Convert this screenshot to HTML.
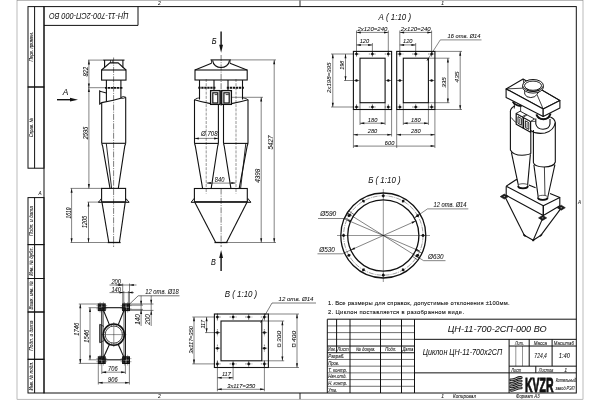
<!DOCTYPE html>
<html lang="ru"><head><meta charset="utf-8"><title>ЦН-11-700-2СП-000 ВО</title>
<style>
html,body{margin:0;padding:0;background:#fff;width:600px;height:400px;overflow:hidden}
svg{display:block;position:absolute;left:0;top:0;opacity:.999;will-change:transform}
svg text{stroke:#111;stroke-width:0.07px;font-family:"Liberation Sans","DejaVu Sans",sans-serif;font-style:italic;fill:#111}
</style></head><body>
<svg width="600" height="400" viewBox="0 0 600 400" stroke="#111" fill="none" stroke-linecap="butt">
<g id="frame">
<rect x="17" y="0.5" width="566" height="398.7" stroke="#777" stroke-width="0.5"/>
<rect x="44" y="6.6" width="532.3" height="386.4" stroke-width="1" fill="none"/>
<line x1="300" y1="0.5" x2="300" y2="6.6" stroke-width="0.9"/>
<line x1="300" y1="393" x2="300" y2="399.2" stroke-width="0.9"/>
<text transform="translate(159.3 3.4) rotate(0)" x="0" y="1.8" text-anchor="middle" style="font-size:5px;" fill="#333">2</text>
<text transform="translate(442.7 3.4) rotate(0)" x="0" y="1.8" text-anchor="middle" style="font-size:5px;" fill="#333">1</text>
<text transform="translate(159.3 396.3) rotate(0)" x="0" y="1.8" text-anchor="middle" style="font-size:5px;" fill="#333">2</text>
<text transform="translate(442.7 396.3) rotate(0)" x="0" y="1.8" text-anchor="middle" style="font-size:5px;" fill="#333">1</text>
<text transform="translate(40 193.3) rotate(0)" x="0" y="1.66" text-anchor="middle" style="font-size:4.6px;">А</text>
<text transform="translate(579.6 202.3) rotate(0)" x="0" y="1.66" text-anchor="middle" style="font-size:4.6px;">А</text>
<text transform="translate(464.5 396.4) rotate(0)" x="0" y="1.8" text-anchor="middle" style="font-size:5px;" textLength="23" lengthAdjust="spacingAndGlyphs" fill="#333">Копировал</text>
<text transform="translate(527.8 396.3) rotate(0)" x="0" y="1.8" text-anchor="middle" style="font-size:5px;" textLength="23.5" lengthAdjust="spacingAndGlyphs" fill="#333">Формат А3</text>
<line x1="138" y1="6.6" x2="138" y2="25.4" stroke-width="1"/>
<line x1="44" y1="25.4" x2="138" y2="25.4" stroke-width="1"/>
<text transform="translate(88.8 16.4) rotate(180)" x="0" y="3.17" text-anchor="middle" style="font-size:8.8px;stroke-width:0.03px;" textLength="79.5" lengthAdjust="spacingAndGlyphs">ЦН-11-700-2СП-000 ВО</text>
<rect x="28" y="6.6" width="16" height="80.4" stroke-width="1" fill="none"/>
<text transform="translate(31.4 46.8) rotate(-90)" x="0" y="1.87" text-anchor="middle" style="font-size:5.2px;" textLength="29.5" lengthAdjust="spacingAndGlyphs">Перв. примен.</text>
<rect x="28" y="87" width="16" height="81.2" stroke-width="1" fill="none"/>
<text transform="translate(31.4 127.6) rotate(-90)" x="0" y="1.87" text-anchor="middle" style="font-size:5.2px;" textLength="19.5" lengthAdjust="spacingAndGlyphs">Справ. №</text>
<line x1="34.6" y1="6.6" x2="34.6" y2="168.2" stroke-width="1"/>
<rect x="28" y="197.6" width="16" height="47" stroke-width="1" fill="none"/>
<text transform="translate(31.4 221.1) rotate(-90)" x="0" y="1.87" text-anchor="middle" style="font-size:5.2px;" textLength="30" lengthAdjust="spacingAndGlyphs">Подп. и дата</text>
<rect x="28" y="244.6" width="16" height="33.9" stroke-width="1" fill="none"/>
<text transform="translate(31.4 261.55) rotate(-90)" x="0" y="1.87" text-anchor="middle" style="font-size:5.2px;" textLength="28.5" lengthAdjust="spacingAndGlyphs">Инв. № дубл.</text>
<rect x="28" y="278.5" width="16" height="33.5" stroke-width="1" fill="none"/>
<text transform="translate(31.4 295.25) rotate(-90)" x="0" y="1.87" text-anchor="middle" style="font-size:5.2px;" textLength="28.5" lengthAdjust="spacingAndGlyphs">Взам. инв. №</text>
<rect x="28" y="312" width="16" height="47.3" stroke-width="1" fill="none"/>
<text transform="translate(31.4 335.65) rotate(-90)" x="0" y="1.87" text-anchor="middle" style="font-size:5.2px;" textLength="30" lengthAdjust="spacingAndGlyphs">Подп. и дата</text>
<rect x="28" y="359.3" width="16" height="33.7" stroke-width="1" fill="none"/>
<text transform="translate(31.4 376.15) rotate(-90)" x="0" y="1.87" text-anchor="middle" style="font-size:5.2px;" textLength="28.5" lengthAdjust="spacingAndGlyphs">Инв. № подл.</text>
<line x1="34.6" y1="197.6" x2="34.6" y2="393" stroke-width="1"/>
</g>
<g id="title">
<line x1="327.3" y1="319.2" x2="576.3" y2="319.2" stroke-width="1"/>
<line x1="327.3" y1="319.2" x2="327.3" y2="393" stroke-width="1"/>
<line x1="350" y1="319.2" x2="350" y2="393" stroke-width="1"/>
<line x1="380.5" y1="319.2" x2="380.5" y2="393" stroke-width="1"/>
<line x1="401.5" y1="319.2" x2="401.5" y2="393" stroke-width="1"/>
<line x1="414.5" y1="319.2" x2="414.5" y2="393" stroke-width="1"/>
<line x1="336.6" y1="319.2" x2="336.6" y2="352.75" stroke-width="1"/>
<line x1="327.3" y1="325.91" x2="414.5" y2="325.91" stroke-width="0.6"/>
<line x1="327.3" y1="332.62" x2="414.5" y2="332.62" stroke-width="0.6"/>
<line x1="327.3" y1="339.33" x2="414.5" y2="339.33" stroke-width="0.6"/>
<line x1="327.3" y1="346.04" x2="414.5" y2="346.04" stroke-width="1"/>
<line x1="327.3" y1="352.75" x2="414.5" y2="352.75" stroke-width="1"/>
<line x1="327.3" y1="359.45" x2="414.5" y2="359.45" stroke-width="0.6"/>
<line x1="327.3" y1="366.16" x2="414.5" y2="366.16" stroke-width="0.6"/>
<line x1="327.3" y1="372.87" x2="414.5" y2="372.87" stroke-width="0.6"/>
<line x1="327.3" y1="379.58" x2="414.5" y2="379.58" stroke-width="0.6"/>
<line x1="327.3" y1="386.29" x2="414.5" y2="386.29" stroke-width="0.6"/>
<line x1="414.5" y1="339.33" x2="576.3" y2="339.33" stroke-width="1"/>
<line x1="414.5" y1="372.87" x2="576.3" y2="372.87" stroke-width="1"/>
<line x1="509.1" y1="339.33" x2="509.1" y2="393" stroke-width="1"/>
<line x1="509.1" y1="346.04" x2="576.3" y2="346.04" stroke-width="1"/>
<line x1="509.1" y1="366.16" x2="576.3" y2="366.16" stroke-width="1"/>
<line x1="529.2" y1="339.33" x2="529.2" y2="366.16" stroke-width="1"/>
<line x1="552.1" y1="339.33" x2="552.1" y2="366.16" stroke-width="1"/>
<line x1="515.8" y1="346.04" x2="515.8" y2="366.16" stroke-width="0.45"/>
<line x1="522.5" y1="346.04" x2="522.5" y2="366.16" stroke-width="0.45"/>
<line x1="535.8" y1="366.16" x2="535.8" y2="372.87" stroke-width="1"/>
<text transform="translate(331.9 349.59) rotate(0)" x="0" y="1.8" text-anchor="middle" style="font-size:5px;" textLength="7.6" lengthAdjust="spacingAndGlyphs">Изм.</text>
<text transform="translate(342.9 349.59) rotate(0)" x="0" y="1.8" text-anchor="middle" style="font-size:5px;" textLength="11.5" lengthAdjust="spacingAndGlyphs">Лист</text>
<text transform="translate(365.8 349.59) rotate(0)" x="0" y="1.8" text-anchor="middle" style="font-size:5px;" textLength="19.5" lengthAdjust="spacingAndGlyphs">№ докум.</text>
<text transform="translate(390.8 349.59) rotate(0)" x="0" y="1.8" text-anchor="middle" style="font-size:5px;" textLength="11" lengthAdjust="spacingAndGlyphs">Подп.</text>
<text transform="translate(407.9 349.59) rotate(0)" x="0" y="1.8" text-anchor="middle" style="font-size:5px;" textLength="11" lengthAdjust="spacingAndGlyphs">Дата</text>
<text transform="translate(328.2 356.3) rotate(0)" x="0" y="1.87" text-anchor="start" style="font-size:5.2px;" textLength="16.3" lengthAdjust="spacingAndGlyphs">Разраб.</text>
<text transform="translate(328.2 363.01) rotate(0)" x="0" y="1.87" text-anchor="start" style="font-size:5.2px;" textLength="11" lengthAdjust="spacingAndGlyphs">Пров.</text>
<text transform="translate(328.2 369.72) rotate(0)" x="0" y="1.87" text-anchor="start" style="font-size:5.2px;" textLength="19" lengthAdjust="spacingAndGlyphs">Т. контр.</text>
<text transform="translate(328.2 376.43) rotate(0)" x="0" y="1.87" text-anchor="start" style="font-size:5.2px;" textLength="18.5" lengthAdjust="spacingAndGlyphs">Нач.отд.</text>
<text transform="translate(328.2 383.14) rotate(0)" x="0" y="1.87" text-anchor="start" style="font-size:5.2px;" textLength="19" lengthAdjust="spacingAndGlyphs">Н. контр.</text>
<text transform="translate(328.2 389.85) rotate(0)" x="0" y="1.87" text-anchor="start" style="font-size:5.2px;" textLength="9" lengthAdjust="spacingAndGlyphs">Утв.</text>
<text transform="translate(497.2 328.9) rotate(0)" x="0" y="3.24" text-anchor="middle" style="font-size:9px;stroke-width:0.03px;" textLength="99" lengthAdjust="spacingAndGlyphs">ЦН-11-700-2СП-000 ВО</text>
<text transform="translate(462.4 352.4) rotate(0)" x="0" y="3.02" text-anchor="middle" style="font-size:8.4px;stroke-width:0.03px;" textLength="79.5" lengthAdjust="spacingAndGlyphs">Циклон ЦН-11-700х2СП</text>
<text transform="translate(519.4 342.98) rotate(0)" x="0" y="1.87" text-anchor="middle" style="font-size:5.2px;" textLength="8.8" lengthAdjust="spacingAndGlyphs">Лит.</text>
<text transform="translate(540.3 342.98) rotate(0)" x="0" y="1.87" text-anchor="middle" style="font-size:5.2px;" textLength="13.2" lengthAdjust="spacingAndGlyphs">Масса</text>
<text transform="translate(563.8 342.98) rotate(0)" x="0" y="1.87" text-anchor="middle" style="font-size:5.2px;" textLength="20" lengthAdjust="spacingAndGlyphs">Масштаб</text>
<text transform="translate(540.6 355.8) rotate(0)" x="0" y="2.3" text-anchor="middle" style="font-size:6.4px;" textLength="12.5" lengthAdjust="spacingAndGlyphs">724,4</text>
<text transform="translate(564.4 356) rotate(0)" x="0" y="2.3" text-anchor="middle" style="font-size:6.4px;" textLength="11.3" lengthAdjust="spacingAndGlyphs">1:40</text>
<text transform="translate(516.2 369.82) rotate(0)" x="0" y="1.87" text-anchor="middle" style="font-size:5.2px;" textLength="10" lengthAdjust="spacingAndGlyphs">Лист</text>
<text transform="translate(546 369.82) rotate(0)" x="0" y="1.87" text-anchor="middle" style="font-size:5.2px;" textLength="14.4" lengthAdjust="spacingAndGlyphs">Листов</text>
<text transform="translate(565.6 369.82) rotate(0)" x="0" y="1.87" text-anchor="middle" style="font-size:5.2px;">1</text>
<path d="M510.8 379.8 C512.5 380.2 514 379.6 516 378.7 S519.5 377.2 521.2 377.6" stroke-width="2.8" fill="none" stroke-linecap="round"/>
<path d="M510.8 379.8 C512.5 380.2 514 379.6 516 378.7 S519.5 377.2 521.2 377.6" stroke-width="0.7" fill="none" stroke-linecap="round" stroke="#fff"/>
<path d="M510.8 383.25 C512.5 383.65 514 383.05 516 382.15 S519.5 380.65 521.2 381.05" stroke-width="2.8" fill="none" stroke-linecap="round"/>
<path d="M510.8 383.25 C512.5 383.65 514 383.05 516 382.15 S519.5 380.65 521.2 381.05" stroke-width="0.7" fill="none" stroke-linecap="round" stroke="#fff"/>
<path d="M510.8 386.7 C512.5 387.1 514 386.5 516 385.6 S519.5 384.1 521.2 384.5" stroke-width="2.8" fill="none" stroke-linecap="round"/>
<path d="M510.8 386.7 C512.5 387.1 514 386.5 516 385.6 S519.5 384.1 521.2 384.5" stroke-width="0.7" fill="none" stroke-linecap="round" stroke="#fff"/>
<path d="M510.8 390.15 C512.5 390.55 514 389.95 516 389.05 S519.5 387.55 521.2 387.95" stroke-width="2.8" fill="none" stroke-linecap="round"/>
<path d="M510.8 390.15 C512.5 390.55 514 389.95 516 389.05 S519.5 387.55 521.2 387.95" stroke-width="0.7" fill="none" stroke-linecap="round" stroke="#fff"/>
<text transform="translate(539.2 384.2) rotate(0)" x="0" y="7.34" text-anchor="middle" style="font-size:20.4px;font-style:normal;font-weight:bold;stroke-width:0.9px;" textLength="28.6" lengthAdjust="spacingAndGlyphs">KVZR</text>
<text transform="translate(565.9 380.6) rotate(0)" x="0" y="1.87" text-anchor="middle" style="font-size:5.2px;" textLength="20.5" lengthAdjust="spacingAndGlyphs">Котельный</text>
<text transform="translate(565 388) rotate(0)" x="0" y="1.87" text-anchor="middle" style="font-size:5.2px;" textLength="19" lengthAdjust="spacingAndGlyphs">завод РЭП</text>
</g>
<text transform="translate(328 303.4) rotate(0)" x="0" y="2.09" text-anchor="start" style="font-size:5.8px;font-style:normal;stroke-width:0.1px;" textLength="181.5" lengthAdjust="spacing">1. Все размеры для справок, допустимые отклонения ±100мм.</text>
<text transform="translate(328 311.7) rotate(0)" x="0" y="2.09" text-anchor="start" style="font-size:5.8px;font-style:normal;stroke-width:0.1px;" textLength="136" lengthAdjust="spacing">2. Циклон поставляется в разобранном виде.</text>
<g id="v1">
<line x1="113.6" y1="57.5" x2="113.6" y2="247" stroke-width="0.55" stroke-dasharray="6 1.2 1 1.2"/>
<line x1="103.1" y1="60.1" x2="124.5" y2="60.1" stroke-width="1.1"/>
<line x1="104.6" y1="60.1" x2="104.6" y2="67.4" stroke-width="1.1"/>
<line x1="122.9" y1="60.1" x2="122.9" y2="67.4" stroke-width="1.1"/>
<line x1="110.6" y1="60.1" x2="110.6" y2="62.9" stroke-width="0.8"/>
<line x1="112.6" y1="60.1" x2="112.6" y2="62.9" stroke-width="0.6"/>
<path d="M101.6 70 L109.9 62.9 L118.1 62.9 L126 70" stroke-width="1.1" fill="none"/>
<rect x="101.6" y="70" width="24.4" height="10.1" stroke-width="1.1" fill="none"/>
<line x1="106.4" y1="80.1" x2="106.4" y2="101.6" stroke-width="1.1"/>
<line x1="120.9" y1="80.1" x2="120.9" y2="98" stroke-width="1.1"/>
<line x1="105" y1="87.9" x2="123" y2="87.9" stroke-width="1.9" stroke-dasharray="2.4 0.6"/>
<path d="M106.4 93 L99.7 91.2 L99.7 90.2 L99.7 104.7 L99.7 104 L101.8 102.5" stroke-width="1.1" fill="none"/>
<path d="M101.7 102.6 Q112 100.8 120.9 98.2" stroke-width="1.1" fill="none" />
<path d="M120.9 97.5 Q123 95.8 125.7 97.2" stroke-width="0.9" fill="none" />
<path d="M120.9 98.3 Q123.8 98.7 125.7 97.3" stroke-width="0.9" fill="none" />
<line x1="101.7" y1="102.4" x2="101.7" y2="143.3" stroke-width="1.1"/>
<line x1="125.7" y1="97.2" x2="125.7" y2="143.3" stroke-width="1.1"/>
<line x1="101.7" y1="143.3" x2="125.7" y2="143.3" stroke-width="1.1"/>
<path d="M101.7 143.3 L102.6 146 L110 188.3" stroke-width="1.1" fill="none"/>
<path d="M125.7 143.3 L124.8 146 L118.3 188.3" stroke-width="1.1" fill="none"/>
<path d="M106.3 143.5 L111.6 188.3" stroke-width="0.9" fill="none"/>
<rect x="101.6" y="188.4" width="24" height="13.6" stroke-width="1.1" fill="none"/>
<line x1="98.4" y1="202.1" x2="129.2" y2="202.1" stroke-width="1.3"/>
<path d="M98.6 202.2 L101.2 198.8 L101.6 202.2 Z" stroke-width="0.9" fill="#fff"/>
<path d="M129 202.2 L126.2 198.8 L125.6 202.2 Z" stroke-width="0.9" fill="#fff"/>
<path d="M102 202.4 L108.8 242.5" stroke-width="1.1" fill="none"/>
<path d="M125.2 202.4 L119.4 242.5" stroke-width="1.1" fill="none"/>
<line x1="107.6" y1="242.5" x2="120.6" y2="242.5" stroke-width="1.3"/>
<line x1="88" y1="60.1" x2="103" y2="60.1" stroke-width="0.52"/>
<line x1="88" y1="87.7" x2="106" y2="87.7" stroke-width="0.52"/>
<line x1="88.9" y1="60.1" x2="88.9" y2="87.7" stroke-width="0.52"/>
<path d="M88.9 60.1 L89.9 64.4 L87.9 64.4 Z" fill="#111" stroke="none"/>
<path d="M88.9 87.7 L87.9 83.4 L89.9 83.4 Z" fill="#111" stroke="none"/>
<text transform="translate(85.4 71.7) rotate(-90)" x="0" y="2.52" text-anchor="middle" style="font-size:7px;" textLength="9.5" lengthAdjust="spacingAndGlyphs">822</text>
<line x1="88.9" y1="87.7" x2="88.9" y2="188.4" stroke-width="0.52"/>
<path d="M88.9 87.7 L89.9 92 L87.9 92 Z" fill="#111" stroke="none"/>
<path d="M88.9 188.4 L87.9 184.1 L89.9 184.1 Z" fill="#111" stroke="none"/>
<text transform="translate(85.3 133) rotate(-90)" x="0" y="2.52" text-anchor="middle" style="font-size:7px;" textLength="12.5" lengthAdjust="spacingAndGlyphs">2595</text>
<line x1="70.5" y1="188.4" x2="101.8" y2="188.4" stroke-width="0.52"/>
<line x1="87.5" y1="202.1" x2="99" y2="202.1" stroke-width="0.52"/>
<line x1="70.5" y1="242.5" x2="107.6" y2="242.5" stroke-width="0.52"/>
<line x1="71.6" y1="188.4" x2="71.6" y2="242.5" stroke-width="0.52"/>
<path d="M71.6 188.4 L72.6 192.7 L70.6 192.7 Z" fill="#111" stroke="none"/>
<path d="M71.6 242.5 L70.6 238.2 L72.6 238.2 Z" fill="#111" stroke="none"/>
<text transform="translate(68 213) rotate(-90)" x="0" y="2.52" text-anchor="middle" style="font-size:7px;" textLength="10.8" lengthAdjust="spacingAndGlyphs">1610</text>
<line x1="88.5" y1="202.1" x2="88.5" y2="242.5" stroke-width="0.52"/>
<path d="M88.5 202.1 L89.5 206.4 L87.5 206.4 Z" fill="#111" stroke="none"/>
<path d="M88.5 242.5 L87.5 238.2 L89.5 238.2 Z" fill="#111" stroke="none"/>
<text transform="translate(84.9 222) rotate(-90)" x="0" y="2.52" text-anchor="middle" style="font-size:7px;" textLength="12.2" lengthAdjust="spacingAndGlyphs">1205</text>
<line x1="57" y1="99.7" x2="71" y2="99.7" stroke-width="1.4"/>
<path d="M78 99.7 L70 101.6 L70 97.8 Z" fill="#111" stroke="none"/>
<text transform="translate(65.6 92) rotate(0)" x="0" y="2.99" text-anchor="middle" style="font-size:8.3px;" textLength="5.6" lengthAdjust="spacingAndGlyphs">А</text>
</g>
<g id="v2">
<line x1="221.1" y1="55" x2="221.1" y2="106" stroke-width="0.55" stroke-dasharray="6 1.2 1 1.2"/>
<line x1="221.1" y1="188.5" x2="221.1" y2="247" stroke-width="0.55" stroke-dasharray="6 1.2 1 1.2"/>
<line x1="206.2" y1="79" x2="206.2" y2="190" stroke-width="0.45" stroke-dasharray="3 1.2"/>
<line x1="236" y1="79" x2="236" y2="190" stroke-width="0.45" stroke-dasharray="3 1.2"/>
<line x1="206.2" y1="190" x2="206.2" y2="193.5" stroke-width="0.45" stroke-dasharray="2 1"/>
<line x1="236" y1="190" x2="236" y2="193.5" stroke-width="0.45" stroke-dasharray="2 1"/>
<line x1="210.5" y1="59.9" x2="231" y2="59.9" stroke-width="1.1"/>
<line x1="211.5" y1="59.9" x2="211.5" y2="63.4" stroke-width="0.8"/>
<line x1="230" y1="59.9" x2="230" y2="63.4" stroke-width="0.8"/>
<path d="M212.6 60.4 C213.5 69.8 228.5 69.8 229.5 60.4" stroke-width="1.1" fill="none" />
<path d="M195 70 L211.5 63.3" stroke-width="1.1" fill="none"/>
<path d="M247 70 L230 63.3" stroke-width="1.1" fill="none"/>
<rect x="195" y="70" width="52.2" height="10" stroke-width="1.1" fill="none"/>
<line x1="199.5" y1="80" x2="199.5" y2="99.5" stroke-width="1.1"/>
<line x1="214" y1="80" x2="214" y2="99.5" stroke-width="1.1"/>
<line x1="198.3" y1="87.8" x2="215.4" y2="87.8" stroke-width="1.9" stroke-dasharray="2.3 0.7"/>
<line x1="228" y1="80" x2="228" y2="99.5" stroke-width="1.1"/>
<line x1="242.5" y1="80" x2="242.5" y2="99.5" stroke-width="1.1"/>
<line x1="226.8" y1="87.8" x2="243.9" y2="87.8" stroke-width="1.9" stroke-dasharray="2.3 0.7"/>
<rect x="210.6" y="90.6" width="9.4" height="13.8" stroke-width="1.3" fill="#fff"/>
<rect x="212.8" y="92.8" width="5" height="10.2" stroke-width="1.2" fill="none"/>
<line x1="214.6" y1="94.6" x2="217.4" y2="94.6" stroke-width="0.8"/>
<rect x="221.7" y="90.6" width="9.7" height="13.8" stroke-width="1.3" fill="#fff"/>
<rect x="223.9" y="92.8" width="5.3" height="10.2" stroke-width="1.2" fill="none"/>
<line x1="225.7" y1="94.6" x2="228.8" y2="94.6" stroke-width="0.8"/>
<line x1="220.8" y1="90.6" x2="220.8" y2="104.4" stroke-width="1"/>
<path d="M194.5 100.2 Q194.8 98.2 199.5 97.8" stroke-width="0.8" fill="none" />
<path d="M248 100.2 Q247.7 98.2 242.5 97.8" stroke-width="0.8" fill="none" />
<path d="M194.5 99.8 Q201 102 210.6 103.6" stroke-width="1.1" fill="none" />
<path d="M248 99.8 Q241 102 231.4 103.6" stroke-width="1.1" fill="none" />
<line x1="194.5" y1="99.6" x2="194.5" y2="143.4" stroke-width="1.1"/>
<line x1="218.4" y1="104.4" x2="218.4" y2="143.4" stroke-width="1.1"/>
<line x1="223.5" y1="104.4" x2="223.5" y2="143.4" stroke-width="1.1"/>
<line x1="248" y1="99.6" x2="248" y2="143.4" stroke-width="1.1"/>
<line x1="194.5" y1="143.4" x2="218.4" y2="143.4" stroke-width="1.1"/>
<line x1="223.5" y1="143.4" x2="248" y2="143.4" stroke-width="1.1"/>
<path d="M194.5 143.4 L195.3 146 L202.6 188.4" stroke-width="1.1" fill="none"/>
<path d="M218.4 143.4 L217.7 146 L211.2 188.4" stroke-width="1.1" fill="none"/>
<path d="M223.5 143.4 L224.2 146 L230.9 188.4" stroke-width="1.1" fill="none"/>
<path d="M248 143.4 L247.2 146 L239.2 188.4" stroke-width="1.1" fill="none"/>
<path d="M245.8 143.6 L240.6 188.4" stroke-width="0.9" fill="none"/>
<rect x="194.4" y="188.5" width="52.9" height="13.3" stroke-width="1.1" fill="none"/>
<line x1="191" y1="202.1" x2="251" y2="202.1" stroke-width="1.4"/>
<path d="M191.2 202.2 L194 198.6 L194.6 202.2 Z" stroke-width="0.9" fill="#fff"/>
<path d="M250.8 202.2 L248 198.6 L247.3 202.2 Z" stroke-width="0.9" fill="#fff"/>
<path d="M194.8 202.2 L215.7 242.4" stroke-width="1.1" fill="none"/>
<path d="M247 202.2 L226.5 242.4" stroke-width="1.1" fill="none"/>
<line x1="214.5" y1="242.5" x2="227.6" y2="242.5" stroke-width="1.3"/>
<line x1="231" y1="59.9" x2="276" y2="59.9" stroke-width="0.52"/>
<line x1="231.6" y1="97.3" x2="263" y2="97.3" stroke-width="0.52"/>
<line x1="227.6" y1="242.5" x2="276" y2="242.5" stroke-width="0.52"/>
<line x1="274.2" y1="59.9" x2="274.2" y2="242.5" stroke-width="0.52"/>
<path d="M274.2 59.9 L275.2 64.2 L273.2 64.2 Z" fill="#111" stroke="none"/>
<path d="M274.2 242.5 L273.2 238.2 L275.2 238.2 Z" fill="#111" stroke="none"/>
<text transform="translate(270.6 142.5) rotate(-90)" x="0" y="2.52" text-anchor="middle" style="font-size:7px;" textLength="14" lengthAdjust="spacingAndGlyphs">5427</text>
<line x1="261.2" y1="97.3" x2="261.2" y2="242.5" stroke-width="0.52"/>
<path d="M261.2 97.3 L262.2 101.6 L260.2 101.6 Z" fill="#111" stroke="none"/>
<path d="M261.2 242.5 L260.2 238.2 L262.2 238.2 Z" fill="#111" stroke="none"/>
<text transform="translate(257.9 175.8) rotate(-90)" x="0" y="2.52" text-anchor="middle" style="font-size:7px;" textLength="14" lengthAdjust="spacingAndGlyphs">4398</text>
<line x1="194.5" y1="138.4" x2="218.4" y2="138.4" stroke-width="0.52"/>
<path d="M194.5 138.4 L198.8 137.4 L198.8 139.4 Z" fill="#111" stroke="none"/>
<path d="M218.4 138.4 L214.1 139.4 L214.1 137.4 Z" fill="#111" stroke="none"/>
<text transform="translate(209.3 133.5) rotate(0)" x="0" y="2.52" text-anchor="middle" style="font-size:7px;" textLength="16.5" lengthAdjust="spacingAndGlyphs">Ø 708</text>
<line x1="206.6" y1="183.1" x2="235.6" y2="183.1" stroke-width="0.52"/>
<path d="M206.6 183.1 L210.9 182.1 L210.9 184.1 Z" fill="#111" stroke="none"/>
<path d="M235.6 183.1 L231.3 184.1 L231.3 182.1 Z" fill="#111" stroke="none"/>
<text transform="translate(219.6 179.2) rotate(0)" x="0" y="2.52" text-anchor="middle" style="font-size:7px;" textLength="9.5" lengthAdjust="spacingAndGlyphs">840</text>
<line x1="221.1" y1="31.5" x2="221.1" y2="46" stroke-width="1.4"/>
<path d="M221.1 52.8 L219.2 44.8 L223 44.8 Z" fill="#111" stroke="none"/>
<text transform="translate(214.2 40.5) rotate(0)" x="0" y="2.99" text-anchor="middle" style="font-size:8.3px;" textLength="4.8" lengthAdjust="spacingAndGlyphs">Б</text>
<line x1="221.1" y1="271" x2="221.1" y2="257" stroke-width="1.4"/>
<path d="M221.1 250 L223 258 L219.2 258 Z" fill="#111" stroke="none"/>
<text transform="translate(213.4 261.6) rotate(0)" x="0" y="2.99" text-anchor="middle" style="font-size:8.3px;" textLength="4.8" lengthAdjust="spacingAndGlyphs">В</text>
</g>
<g id="vA">
<text transform="translate(394.8 16.4) rotate(0)" x="0" y="3.17" text-anchor="middle" style="font-size:8.8px;stroke-width:0.03px;" textLength="32.5" lengthAdjust="spacingAndGlyphs">А ( 1:10 )</text>
<rect x="353.4" y="51.4" width="38.2" height="58.1" stroke-width="1.1" fill="none"/>
<rect x="360" y="58.2" width="25.1" height="44.5" stroke-width="1.1" fill="none"/>
<circle cx="356.5" cy="54" r="1.3" fill="#111" stroke="none"/>
<line x1="356.5" y1="51.4" x2="356.5" y2="56.6" stroke-width="0.6"/>
<circle cx="356.5" cy="107" r="1.3" fill="#111" stroke="none"/>
<line x1="356.5" y1="104.4" x2="356.5" y2="109.6" stroke-width="0.6"/>
<circle cx="372.4" cy="54" r="1.3" fill="#111" stroke="none"/>
<line x1="372.4" y1="51.4" x2="372.4" y2="56.6" stroke-width="0.6"/>
<circle cx="372.4" cy="107" r="1.3" fill="#111" stroke="none"/>
<line x1="372.4" y1="104.4" x2="372.4" y2="109.6" stroke-width="0.6"/>
<circle cx="388.3" cy="54" r="1.3" fill="#111" stroke="none"/>
<line x1="388.3" y1="51.4" x2="388.3" y2="56.6" stroke-width="0.6"/>
<circle cx="388.3" cy="107" r="1.3" fill="#111" stroke="none"/>
<line x1="388.3" y1="104.4" x2="388.3" y2="109.6" stroke-width="0.6"/>
<circle cx="356.5" cy="80.5" r="1.3" fill="#111" stroke="none"/>
<line x1="353.7" y1="80.5" x2="359.3" y2="80.5" stroke-width="0.6"/>
<circle cx="388.3" cy="80.5" r="1.3" fill="#111" stroke="none"/>
<line x1="385.5" y1="80.5" x2="391.1" y2="80.5" stroke-width="0.6"/>
<line x1="352.9" y1="54" x2="360.1" y2="54" stroke-width="0.5" stroke-dasharray="1.6 0.6"/>
<line x1="352.9" y1="107" x2="360.1" y2="107" stroke-width="0.5" stroke-dasharray="1.6 0.6"/>
<line x1="368.8" y1="54" x2="376" y2="54" stroke-width="0.5" stroke-dasharray="1.6 0.6"/>
<line x1="368.8" y1="107" x2="376" y2="107" stroke-width="0.5" stroke-dasharray="1.6 0.6"/>
<line x1="384.7" y1="54" x2="391.9" y2="54" stroke-width="0.5" stroke-dasharray="1.6 0.6"/>
<line x1="384.7" y1="107" x2="391.9" y2="107" stroke-width="0.5" stroke-dasharray="1.6 0.6"/>
<line x1="356.5" y1="30.5" x2="356.5" y2="54" stroke-width="0.52"/>
<line x1="388.3" y1="30.5" x2="388.3" y2="54" stroke-width="0.52"/>
<line x1="372.4" y1="43" x2="372.4" y2="54" stroke-width="0.52"/>
<line x1="356.5" y1="32.4" x2="388.3" y2="32.4" stroke-width="0.52"/>
<path d="M356.5 32.4 L360.8 31.4 L360.8 33.4 Z" fill="#111" stroke="none"/>
<path d="M388.3 32.4 L384 33.4 L384 31.4 Z" fill="#111" stroke="none"/>
<text transform="translate(372.4 28.6) rotate(0)" x="0" y="2.05" text-anchor="middle" style="font-size:5.7px;" textLength="30" lengthAdjust="spacingAndGlyphs">2х120=240</text>
<line x1="356.5" y1="44.9" x2="372.4" y2="44.9" stroke-width="0.52"/>
<path d="M356.5 44.9 L360.8 43.9 L360.8 45.9 Z" fill="#111" stroke="none"/>
<path d="M372.4 44.9 L368.1 45.9 L368.1 43.9 Z" fill="#111" stroke="none"/>
<text transform="translate(364.45 41.2) rotate(0)" x="0" y="2.05" text-anchor="middle" style="font-size:5.7px;" textLength="9.5" lengthAdjust="spacingAndGlyphs">120</text>
<line x1="360" y1="102.7" x2="360" y2="125" stroke-width="0.52"/>
<line x1="385.1" y1="102.7" x2="385.1" y2="125" stroke-width="0.52"/>
<line x1="353.4" y1="109.5" x2="353.4" y2="148" stroke-width="0.52"/>
<line x1="391.6" y1="109.5" x2="391.6" y2="136.5" stroke-width="0.52"/>
<line x1="360" y1="123.2" x2="385.1" y2="123.2" stroke-width="0.52"/>
<path d="M360 123.2 L364.3 122.2 L364.3 124.2 Z" fill="#111" stroke="none"/>
<path d="M385.1 123.2 L380.8 124.2 L380.8 122.2 Z" fill="#111" stroke="none"/>
<text transform="translate(372.55 119.6) rotate(0)" x="0" y="2.05" text-anchor="middle" style="font-size:5.7px;" textLength="9.5" lengthAdjust="spacingAndGlyphs">180</text>
<line x1="353.4" y1="134.7" x2="391.6" y2="134.7" stroke-width="0.52"/>
<path d="M353.4 134.7 L357.7 133.7 L357.7 135.7 Z" fill="#111" stroke="none"/>
<path d="M391.6 134.7 L387.3 135.7 L387.3 133.7 Z" fill="#111" stroke="none"/>
<text transform="translate(372.5 131.1) rotate(0)" x="0" y="2.05" text-anchor="middle" style="font-size:5.7px;" textLength="9.5" lengthAdjust="spacingAndGlyphs">280</text>
<rect x="396.7" y="51.4" width="38.2" height="58.1" stroke-width="1.1" fill="none"/>
<rect x="403.3" y="58.2" width="25.1" height="44.5" stroke-width="1.1" fill="none"/>
<circle cx="399.8" cy="54" r="1.3" fill="#111" stroke="none"/>
<line x1="399.8" y1="51.4" x2="399.8" y2="56.6" stroke-width="0.6"/>
<circle cx="399.8" cy="107" r="1.3" fill="#111" stroke="none"/>
<line x1="399.8" y1="104.4" x2="399.8" y2="109.6" stroke-width="0.6"/>
<circle cx="415.7" cy="54" r="1.3" fill="#111" stroke="none"/>
<line x1="415.7" y1="51.4" x2="415.7" y2="56.6" stroke-width="0.6"/>
<circle cx="415.7" cy="107" r="1.3" fill="#111" stroke="none"/>
<line x1="415.7" y1="104.4" x2="415.7" y2="109.6" stroke-width="0.6"/>
<circle cx="431.6" cy="54" r="1.3" fill="#111" stroke="none"/>
<line x1="431.6" y1="51.4" x2="431.6" y2="56.6" stroke-width="0.6"/>
<circle cx="431.6" cy="107" r="1.3" fill="#111" stroke="none"/>
<line x1="431.6" y1="104.4" x2="431.6" y2="109.6" stroke-width="0.6"/>
<circle cx="399.8" cy="80.5" r="1.3" fill="#111" stroke="none"/>
<line x1="397" y1="80.5" x2="402.6" y2="80.5" stroke-width="0.6"/>
<circle cx="431.6" cy="80.5" r="1.3" fill="#111" stroke="none"/>
<line x1="428.8" y1="80.5" x2="434.4" y2="80.5" stroke-width="0.6"/>
<line x1="396.2" y1="54" x2="403.4" y2="54" stroke-width="0.5" stroke-dasharray="1.6 0.6"/>
<line x1="396.2" y1="107" x2="403.4" y2="107" stroke-width="0.5" stroke-dasharray="1.6 0.6"/>
<line x1="412.1" y1="54" x2="419.3" y2="54" stroke-width="0.5" stroke-dasharray="1.6 0.6"/>
<line x1="412.1" y1="107" x2="419.3" y2="107" stroke-width="0.5" stroke-dasharray="1.6 0.6"/>
<line x1="428" y1="54" x2="435.2" y2="54" stroke-width="0.5" stroke-dasharray="1.6 0.6"/>
<line x1="428" y1="107" x2="435.2" y2="107" stroke-width="0.5" stroke-dasharray="1.6 0.6"/>
<line x1="399.8" y1="30.5" x2="399.8" y2="54" stroke-width="0.52"/>
<line x1="431.6" y1="30.5" x2="431.6" y2="54" stroke-width="0.52"/>
<line x1="415.7" y1="43" x2="415.7" y2="54" stroke-width="0.52"/>
<line x1="399.8" y1="32.4" x2="431.6" y2="32.4" stroke-width="0.52"/>
<path d="M399.8 32.4 L404.1 31.4 L404.1 33.4 Z" fill="#111" stroke="none"/>
<path d="M431.6 32.4 L427.3 33.4 L427.3 31.4 Z" fill="#111" stroke="none"/>
<text transform="translate(415.7 28.6) rotate(0)" x="0" y="2.05" text-anchor="middle" style="font-size:5.7px;" textLength="30" lengthAdjust="spacingAndGlyphs">2х120=240</text>
<line x1="399.8" y1="44.9" x2="415.7" y2="44.9" stroke-width="0.52"/>
<path d="M399.8 44.9 L404.1 43.9 L404.1 45.9 Z" fill="#111" stroke="none"/>
<path d="M415.7 44.9 L411.4 45.9 L411.4 43.9 Z" fill="#111" stroke="none"/>
<text transform="translate(407.75 41.2) rotate(0)" x="0" y="2.05" text-anchor="middle" style="font-size:5.7px;" textLength="9.5" lengthAdjust="spacingAndGlyphs">120</text>
<line x1="403.3" y1="102.7" x2="403.3" y2="125" stroke-width="0.52"/>
<line x1="428.4" y1="102.7" x2="428.4" y2="125" stroke-width="0.52"/>
<line x1="396.7" y1="109.5" x2="396.7" y2="148" stroke-width="0.52"/>
<line x1="434.9" y1="109.5" x2="434.9" y2="136.5" stroke-width="0.52"/>
<line x1="403.3" y1="123.2" x2="428.4" y2="123.2" stroke-width="0.52"/>
<path d="M403.3 123.2 L407.6 122.2 L407.6 124.2 Z" fill="#111" stroke="none"/>
<path d="M428.4 123.2 L424.1 124.2 L424.1 122.2 Z" fill="#111" stroke="none"/>
<text transform="translate(415.85 119.6) rotate(0)" x="0" y="2.05" text-anchor="middle" style="font-size:5.7px;" textLength="9.5" lengthAdjust="spacingAndGlyphs">180</text>
<line x1="396.7" y1="134.7" x2="434.9" y2="134.7" stroke-width="0.52"/>
<path d="M396.7 134.7 L401 133.7 L401 135.7 Z" fill="#111" stroke="none"/>
<path d="M434.9 134.7 L430.6 135.7 L430.6 133.7 Z" fill="#111" stroke="none"/>
<text transform="translate(415.8 131.1) rotate(0)" x="0" y="2.05" text-anchor="middle" style="font-size:5.7px;" textLength="9.5" lengthAdjust="spacingAndGlyphs">280</text>
<line x1="434.9" y1="136.5" x2="434.9" y2="148" stroke-width="0.52"/>
<line x1="353.4" y1="146.1" x2="434.9" y2="146.1" stroke-width="0.52"/>
<path d="M353.4 146.1 L357.7 145.1 L357.7 147.1 Z" fill="#111" stroke="none"/>
<path d="M434.9 146.1 L430.6 147.1 L430.6 145.1 Z" fill="#111" stroke="none"/>
<text transform="translate(389.6 142.7) rotate(0)" x="0" y="2.05" text-anchor="middle" style="font-size:5.7px;" textLength="9.5" lengthAdjust="spacingAndGlyphs">600</text>
<line x1="331" y1="54" x2="353.4" y2="54" stroke-width="0.52"/>
<line x1="331" y1="107" x2="353.4" y2="107" stroke-width="0.52"/>
<line x1="344" y1="80.5" x2="353.4" y2="80.5" stroke-width="0.52"/>
<line x1="332.8" y1="54" x2="332.8" y2="107" stroke-width="0.52"/>
<path d="M332.8 54 L333.8 58.3 L331.8 58.3 Z" fill="#111" stroke="none"/>
<path d="M332.8 107 L331.8 102.7 L333.8 102.7 Z" fill="#111" stroke="none"/>
<text transform="translate(329.3 77.8) rotate(-90)" x="0" y="2.05" text-anchor="middle" style="font-size:5.7px;" textLength="30.5" lengthAdjust="spacingAndGlyphs">2х198=395</text>
<line x1="345.5" y1="54" x2="345.5" y2="80.5" stroke-width="0.52"/>
<path d="M345.5 54 L346.5 58.3 L344.5 58.3 Z" fill="#111" stroke="none"/>
<path d="M345.5 80.5 L344.5 76.2 L346.5 76.2 Z" fill="#111" stroke="none"/>
<text transform="translate(342 65.2) rotate(-90)" x="0" y="2.05" text-anchor="middle" style="font-size:5.7px;" textLength="9" lengthAdjust="spacingAndGlyphs">198</text>
<line x1="434.9" y1="51.4" x2="462" y2="51.4" stroke-width="0.52"/>
<line x1="434.9" y1="109.5" x2="462" y2="109.5" stroke-width="0.52"/>
<line x1="428.4" y1="58.2" x2="449.5" y2="58.2" stroke-width="0.52"/>
<line x1="428.4" y1="102.7" x2="449.5" y2="102.7" stroke-width="0.52"/>
<line x1="447.9" y1="58.2" x2="447.9" y2="102.7" stroke-width="0.52"/>
<path d="M447.9 58.2 L448.9 62.5 L446.9 62.5 Z" fill="#111" stroke="none"/>
<path d="M447.9 102.7 L446.9 98.4 L448.9 98.4 Z" fill="#111" stroke="none"/>
<text transform="translate(444.3 82.6) rotate(-90)" x="0" y="2.05" text-anchor="middle" style="font-size:5.7px;" textLength="10.5" lengthAdjust="spacingAndGlyphs">335</text>
<line x1="460.2" y1="51.4" x2="460.2" y2="109.5" stroke-width="0.52"/>
<path d="M460.2 51.4 L461.2 55.7 L459.2 55.7 Z" fill="#111" stroke="none"/>
<path d="M460.2 109.5 L459.2 105.2 L461.2 105.2 Z" fill="#111" stroke="none"/>
<text transform="translate(456.5 77) rotate(-90)" x="0" y="2.05" text-anchor="middle" style="font-size:5.7px;" textLength="11" lengthAdjust="spacingAndGlyphs">435</text>
<path d="M427.2 60.4 L440.3 39.9 L481.5 39.9" stroke-width="0.5" fill="none"/>
<line x1="427.2" y1="60.4" x2="428.6" y2="58.2" stroke-width="1"/>
<text transform="translate(464 35.9) rotate(0)" x="0" y="2.05" text-anchor="middle" style="font-size:5.7px;" textLength="33" lengthAdjust="spacingAndGlyphs">16 отв. Ø14</text>
</g>
<g id="vB">
<text transform="translate(384.4 179.4) rotate(0)" x="0" y="3.17" text-anchor="middle" style="font-size:8.8px;stroke-width:0.03px;" textLength="32.5" lengthAdjust="spacingAndGlyphs">Б ( 1:10 )</text>
<circle cx="383.3" cy="235.5" r="42.5" stroke-width="1.3" fill="none"/>
<circle cx="383.3" cy="235.5" r="35.6" stroke-width="1.3" fill="none"/>
<circle cx="383.3" cy="235.5" r="39.7" stroke-width="0.4" fill="none" stroke-dasharray="5 1 1 1"/>
<line x1="337" y1="235.5" x2="430" y2="235.5" stroke-width="0.45"/>
<line x1="383.3" y1="189" x2="383.3" y2="282" stroke-width="0.45"/>
<circle cx="383.3" cy="195.8" r="1.4" fill="#111" stroke="none"/>
<line x1="383.3" y1="197.9" x2="383.3" y2="193.7" stroke-width="0.4"/>
<circle cx="403.15" cy="201.12" r="1.4" fill="#111" stroke="none"/>
<line x1="402.1" y1="202.94" x2="404.2" y2="199.3" stroke-width="0.4"/>
<circle cx="417.68" cy="215.65" r="1.4" fill="#111" stroke="none"/>
<line x1="415.86" y1="216.7" x2="419.5" y2="214.6" stroke-width="0.4"/>
<circle cx="423" cy="235.5" r="1.4" fill="#111" stroke="none"/>
<line x1="420.9" y1="235.5" x2="425.1" y2="235.5" stroke-width="0.4"/>
<circle cx="417.68" cy="255.35" r="1.4" fill="#111" stroke="none"/>
<line x1="415.86" y1="254.3" x2="419.5" y2="256.4" stroke-width="0.4"/>
<circle cx="403.15" cy="269.88" r="1.4" fill="#111" stroke="none"/>
<line x1="402.1" y1="268.06" x2="404.2" y2="271.7" stroke-width="0.4"/>
<circle cx="383.3" cy="275.2" r="1.4" fill="#111" stroke="none"/>
<line x1="383.3" y1="273.1" x2="383.3" y2="277.3" stroke-width="0.4"/>
<circle cx="363.45" cy="269.88" r="1.4" fill="#111" stroke="none"/>
<line x1="364.5" y1="268.06" x2="362.4" y2="271.7" stroke-width="0.4"/>
<circle cx="348.92" cy="255.35" r="1.4" fill="#111" stroke="none"/>
<line x1="350.74" y1="254.3" x2="347.1" y2="256.4" stroke-width="0.4"/>
<circle cx="343.6" cy="235.5" r="1.4" fill="#111" stroke="none"/>
<line x1="345.7" y1="235.5" x2="341.5" y2="235.5" stroke-width="0.4"/>
<circle cx="348.92" cy="215.65" r="1.4" fill="#111" stroke="none"/>
<line x1="350.74" y1="216.7" x2="347.1" y2="214.6" stroke-width="0.4"/>
<circle cx="363.45" cy="201.12" r="1.4" fill="#111" stroke="none"/>
<line x1="364.5" y1="202.94" x2="362.4" y2="199.3" stroke-width="0.4"/>
<line x1="350.91" y1="220.74" x2="344.63" y2="217.88" stroke-width="0.6"/>
<line x1="354.32" y1="214.83" x2="348.7" y2="210.82" stroke-width="0.6"/>
<line x1="415.69" y1="250.26" x2="421.97" y2="253.12" stroke-width="0.6"/>
<line x1="412.28" y1="256.17" x2="417.9" y2="260.18" stroke-width="0.6"/>
<line x1="318" y1="218.5" x2="343.5" y2="218.5" stroke-width="0.52"/>
<line x1="343.5" y1="218.5" x2="419.81" y2="251.09" stroke-width="0.52"/>
<path d="M419.81 251.09 L415.46 250.32 L416.25 248.49 Z" fill="#111" stroke="none"/>
<path d="M346.79 219.91 L351.14 220.68 L350.35 222.51 Z" fill="#111" stroke="none"/>
<text transform="translate(328.2 213.7) rotate(0)" x="0" y="2.38" text-anchor="middle" style="font-size:6.6px;" textLength="16" lengthAdjust="spacingAndGlyphs">Ø590</text>
<line x1="317.5" y1="253.8" x2="342.3" y2="253.8" stroke-width="0.52"/>
<line x1="342.3" y1="253.8" x2="415.81" y2="220.99" stroke-width="0.52"/>
<path d="M415.81 220.99 L412.29 223.66 L411.47 221.83 Z" fill="#111" stroke="none"/>
<path d="M350.79 250.01 L354.31 247.34 L355.13 249.17 Z" fill="#111" stroke="none"/>
<text transform="translate(327 249.5) rotate(0)" x="0" y="2.38" text-anchor="middle" style="font-size:6.6px;" textLength="15.6" lengthAdjust="spacingAndGlyphs">Ø530</text>
<line x1="347.26" y1="212.98" x2="423.58" y2="260.67" stroke-width="0.52"/>
<path d="M347.26 212.98 L351.43 214.41 L350.37 216.11 Z" fill="#111" stroke="none"/>
<path d="M419.34 258.02 L415.17 256.59 L416.23 254.89 Z" fill="#111" stroke="none"/>
<line x1="423.58" y1="260.67" x2="445.5" y2="260.67" stroke-width="0.52"/>
<text transform="translate(435.8 256.47) rotate(0)" x="0" y="2.38" text-anchor="middle" style="font-size:6.6px;" textLength="15.4" lengthAdjust="spacingAndGlyphs">Ø630</text>
<path d="M414.18 218.05 L427.5 208.9 L468.3 208.9" stroke-width="0.5" fill="none"/>
<path d="M414.18 218.05 L416.54 215.83 L417.1 216.65 Z" fill="#111" stroke="none"/>
<text transform="translate(450 204.6) rotate(0)" x="0" y="2.38" text-anchor="middle" style="font-size:6.6px;" textLength="33" lengthAdjust="spacingAndGlyphs">12 отв. Ø14</text>
</g>
<g id="v3">
<rect x="98.3" y="303.9" width="6.9" height="6.7" stroke-width="1" fill="#3a3a3a"/>
<circle cx="100.1" cy="305.7" r="1" fill="#111" stroke="none"/>
<circle cx="103.4" cy="305.7" r="1" fill="#111" stroke="none"/>
<circle cx="100.1" cy="308.8" r="1" fill="#111" stroke="none"/>
<circle cx="103.4" cy="308.8" r="1" fill="#111" stroke="none"/>
<line x1="101.75" y1="304.7" x2="101.75" y2="309.8" stroke-width="0.7" stroke="#bbb"/>
<line x1="99.1" y1="307.25" x2="104.4" y2="307.25" stroke-width="0.7" stroke="#bbb"/>
<line x1="100.1" y1="301.9" x2="100.1" y2="312.6" stroke-width="0.35"/>
<line x1="103.4" y1="301.9" x2="103.4" y2="312.6" stroke-width="0.35"/>
<line x1="96.3" y1="305.7" x2="107.2" y2="305.7" stroke-width="0.35"/>
<line x1="96.3" y1="308.8" x2="107.2" y2="308.8" stroke-width="0.35"/>
<rect x="122.6" y="303.9" width="6.9" height="6.7" stroke-width="1" fill="#3a3a3a"/>
<circle cx="124.4" cy="305.7" r="1" fill="#111" stroke="none"/>
<circle cx="127.7" cy="305.7" r="1" fill="#111" stroke="none"/>
<circle cx="124.4" cy="308.8" r="1" fill="#111" stroke="none"/>
<circle cx="127.7" cy="308.8" r="1" fill="#111" stroke="none"/>
<line x1="126.05" y1="304.7" x2="126.05" y2="309.8" stroke-width="0.7" stroke="#bbb"/>
<line x1="123.4" y1="307.25" x2="128.7" y2="307.25" stroke-width="0.7" stroke="#bbb"/>
<line x1="124.4" y1="301.9" x2="124.4" y2="312.6" stroke-width="0.35"/>
<line x1="127.7" y1="301.9" x2="127.7" y2="312.6" stroke-width="0.35"/>
<line x1="120.6" y1="305.7" x2="131.5" y2="305.7" stroke-width="0.35"/>
<line x1="120.6" y1="308.8" x2="131.5" y2="308.8" stroke-width="0.35"/>
<rect x="98.3" y="356.8" width="6.9" height="6.7" stroke-width="1" fill="#3a3a3a"/>
<circle cx="100.1" cy="358.6" r="1" fill="#111" stroke="none"/>
<circle cx="103.4" cy="358.6" r="1" fill="#111" stroke="none"/>
<circle cx="100.1" cy="361.7" r="1" fill="#111" stroke="none"/>
<circle cx="103.4" cy="361.7" r="1" fill="#111" stroke="none"/>
<line x1="101.75" y1="357.6" x2="101.75" y2="362.7" stroke-width="0.7" stroke="#bbb"/>
<line x1="99.1" y1="360.15" x2="104.4" y2="360.15" stroke-width="0.7" stroke="#bbb"/>
<line x1="100.1" y1="354.8" x2="100.1" y2="365.5" stroke-width="0.35"/>
<line x1="103.4" y1="354.8" x2="103.4" y2="365.5" stroke-width="0.35"/>
<line x1="96.3" y1="358.6" x2="107.2" y2="358.6" stroke-width="0.35"/>
<line x1="96.3" y1="361.7" x2="107.2" y2="361.7" stroke-width="0.35"/>
<rect x="122.6" y="356.8" width="6.9" height="6.7" stroke-width="1" fill="#3a3a3a"/>
<circle cx="124.4" cy="358.6" r="1" fill="#111" stroke="none"/>
<circle cx="127.7" cy="358.6" r="1" fill="#111" stroke="none"/>
<circle cx="124.4" cy="361.7" r="1" fill="#111" stroke="none"/>
<circle cx="127.7" cy="361.7" r="1" fill="#111" stroke="none"/>
<line x1="126.05" y1="357.6" x2="126.05" y2="362.7" stroke-width="0.7" stroke="#bbb"/>
<line x1="123.4" y1="360.15" x2="128.7" y2="360.15" stroke-width="0.7" stroke="#bbb"/>
<line x1="124.4" y1="354.8" x2="124.4" y2="365.5" stroke-width="0.35"/>
<line x1="127.7" y1="354.8" x2="127.7" y2="365.5" stroke-width="0.35"/>
<line x1="120.6" y1="358.6" x2="131.5" y2="358.6" stroke-width="0.35"/>
<line x1="120.6" y1="361.7" x2="131.5" y2="361.7" stroke-width="0.35"/>
<line x1="101.8" y1="307.7" x2="101.8" y2="359.8" stroke-width="1.1"/>
<line x1="125.4" y1="307.7" x2="125.4" y2="359.8" stroke-width="1.1"/>
<line x1="101.8" y1="307.7" x2="125.4" y2="307.7" stroke-width="1.1"/>
<line x1="101.8" y1="359.8" x2="125.4" y2="359.8" stroke-width="1.1"/>
<line x1="103.3" y1="310.5" x2="103.3" y2="356.8" stroke-width="0.6"/>
<line x1="123.9" y1="310.5" x2="123.9" y2="356.8" stroke-width="0.6"/>
<path d="M102.6 308.2 L109.3 324.4" stroke-width="1.1" fill="none"/>
<path d="M124.8 308.2 L118.4 324.4" stroke-width="1.1" fill="none"/>
<path d="M102.6 359.4 L109.3 344.8" stroke-width="1.1" fill="none"/>
<path d="M124.8 359.4 L118.4 344.8" stroke-width="1.1" fill="none"/>
<circle cx="113.8" cy="334.6" r="10.6" stroke-width="1.5" fill="none"/>
<circle cx="113.8" cy="334.6" r="8.6" stroke-width="0.8" fill="none"/>
<line x1="101.3" y1="334.6" x2="126.3" y2="334.6" stroke-width="0.45"/>
<line x1="113.8" y1="322.1" x2="113.8" y2="347.1" stroke-width="0.45"/>
<line x1="116.1" y1="326" x2="116.44" y2="324.75" stroke-width="0.5"/>
<line x1="120.09" y1="328.31" x2="121.01" y2="327.39" stroke-width="0.5"/>
<line x1="122.4" y1="332.3" x2="123.65" y2="331.96" stroke-width="0.5"/>
<line x1="122.4" y1="336.9" x2="123.65" y2="337.24" stroke-width="0.5"/>
<line x1="120.09" y1="340.89" x2="121.01" y2="341.81" stroke-width="0.5"/>
<line x1="116.1" y1="343.2" x2="116.44" y2="344.45" stroke-width="0.5"/>
<line x1="111.5" y1="343.2" x2="111.16" y2="344.45" stroke-width="0.5"/>
<line x1="107.51" y1="340.89" x2="106.59" y2="341.81" stroke-width="0.5"/>
<line x1="105.2" y1="336.9" x2="103.95" y2="337.24" stroke-width="0.5"/>
<line x1="105.2" y1="332.3" x2="103.95" y2="331.96" stroke-width="0.5"/>
<line x1="107.51" y1="328.31" x2="106.59" y2="327.39" stroke-width="0.5"/>
<line x1="111.5" y1="326" x2="111.16" y2="324.75" stroke-width="0.5"/>
<line x1="99.8" y1="324.3" x2="99.8" y2="342.8" stroke-width="1.1"/>
<line x1="101" y1="324.3" x2="101" y2="342.8" stroke-width="0.6"/>
<line x1="99.8" y1="324.3" x2="104" y2="326.5" stroke-width="0.7"/>
<line x1="99.8" y1="342.8" x2="104" y2="340.5" stroke-width="0.7"/>
<line x1="78.8" y1="304" x2="98.1" y2="304" stroke-width="0.52"/>
<line x1="78.8" y1="363.4" x2="98.1" y2="363.4" stroke-width="0.52"/>
<line x1="88.6" y1="307.7" x2="101.8" y2="307.7" stroke-width="0.52"/>
<line x1="88.6" y1="359.8" x2="101.8" y2="359.8" stroke-width="0.52"/>
<line x1="80.3" y1="304" x2="80.3" y2="363.4" stroke-width="0.52"/>
<path d="M80.3 304 L81.3 308.3 L79.3 308.3 Z" fill="#111" stroke="none"/>
<path d="M80.3 363.4 L79.3 359.1 L81.3 359.1 Z" fill="#111" stroke="none"/>
<text transform="translate(76.8 329.3) rotate(-90)" x="0" y="2.52" text-anchor="middle" style="font-size:7px;" textLength="13" lengthAdjust="spacingAndGlyphs">1746</text>
<line x1="90" y1="307.7" x2="90" y2="359.8" stroke-width="0.52"/>
<path d="M90 307.7 L91 312 L89 312 Z" fill="#111" stroke="none"/>
<path d="M90 359.8 L89 355.5 L91 355.5 Z" fill="#111" stroke="none"/>
<text transform="translate(86.8 336.2) rotate(-90)" x="0" y="2.52" text-anchor="middle" style="font-size:7px;" textLength="13" lengthAdjust="spacingAndGlyphs">1546</text>
<line x1="101.8" y1="363.6" x2="101.8" y2="374" stroke-width="0.52"/>
<line x1="125.4" y1="363.6" x2="125.4" y2="374" stroke-width="0.52"/>
<line x1="98.3" y1="363.6" x2="98.3" y2="384.5" stroke-width="0.52"/>
<line x1="129.4" y1="363.6" x2="129.4" y2="384.5" stroke-width="0.52"/>
<line x1="101.8" y1="372.2" x2="125.4" y2="372.2" stroke-width="0.52"/>
<path d="M101.8 372.2 L106.1 371.2 L106.1 373.2 Z" fill="#111" stroke="none"/>
<path d="M125.4 372.2 L121.1 373.2 L121.1 371.2 Z" fill="#111" stroke="none"/>
<text transform="translate(112.8 368.6) rotate(0)" x="0" y="2.52" text-anchor="middle" style="font-size:7px;" textLength="9.5" lengthAdjust="spacingAndGlyphs">706</text>
<line x1="98.3" y1="382.8" x2="129.4" y2="382.8" stroke-width="0.52"/>
<path d="M98.3 382.8 L102.6 381.8 L102.6 383.8 Z" fill="#111" stroke="none"/>
<path d="M129.4 382.8 L125.1 383.8 L125.1 381.8 Z" fill="#111" stroke="none"/>
<text transform="translate(112.8 379.2) rotate(0)" x="0" y="2.52" text-anchor="middle" style="font-size:7px;" textLength="9.5" lengthAdjust="spacingAndGlyphs">906</text>
<line x1="122.7" y1="283.5" x2="122.7" y2="303.8" stroke-width="0.52"/>
<line x1="129.5" y1="283.5" x2="129.5" y2="303.8" stroke-width="0.52"/>
<line x1="123.8" y1="291" x2="123.8" y2="304.5" stroke-width="0.5"/>
<line x1="128.4" y1="291" x2="128.4" y2="304.5" stroke-width="0.5"/>
<line x1="115.7" y1="285" x2="136.5" y2="285" stroke-width="0.52"/>
<path d="M122.7 285 L118.4 286 L118.4 284 Z" fill="#111" stroke="none"/>
<path d="M129.5 285 L133.8 284 L133.8 286 Z" fill="#111" stroke="none"/>
<line x1="109.5" y1="285" x2="122.7" y2="285" stroke-width="0.52"/>
<text transform="translate(116.2 281.6) rotate(0)" x="0" y="2.52" text-anchor="middle" style="font-size:7px;" textLength="9.5" lengthAdjust="spacingAndGlyphs">200</text>
<line x1="109.5" y1="292.6" x2="134" y2="292.6" stroke-width="0.52"/>
<path d="M123.8 292.6 L119.5 293.6 L119.5 291.6 Z" fill="#111" stroke="none"/>
<path d="M128.4 292.6 L132.7 291.6 L132.7 293.6 Z" fill="#111" stroke="none"/>
<text transform="translate(116.2 289.3) rotate(0)" x="0" y="2.52" text-anchor="middle" style="font-size:7px;" textLength="9.5" lengthAdjust="spacingAndGlyphs">140</text>
<line x1="129.5" y1="304" x2="153.5" y2="304" stroke-width="0.52"/>
<line x1="129.5" y1="310.4" x2="153.5" y2="310.4" stroke-width="0.52"/>
<line x1="129.5" y1="305.2" x2="143" y2="305.2" stroke-width="0.5"/>
<line x1="129.5" y1="309.4" x2="143" y2="309.4" stroke-width="0.5"/>
<line x1="141.1" y1="295.8" x2="141.1" y2="326" stroke-width="0.52"/>
<path d="M141.1 305 L140.1 300.7 L142.1 300.7 Z" fill="#111" stroke="none"/>
<path d="M141.1 309.6 L142.1 313.9 L140.1 313.9 Z" fill="#111" stroke="none"/>
<line x1="151.2" y1="295.8" x2="151.2" y2="326" stroke-width="0.52"/>
<path d="M151.2 304 L150.2 299.7 L152.2 299.7 Z" fill="#111" stroke="none"/>
<path d="M151.2 310.5 L152.2 314.8 L150.2 314.8 Z" fill="#111" stroke="none"/>
<text transform="translate(137.4 319.6) rotate(-90)" x="0" y="2.52" text-anchor="middle" style="font-size:7px;" textLength="10.5" lengthAdjust="spacingAndGlyphs">140</text>
<text transform="translate(147.8 319.6) rotate(-90)" x="0" y="2.52" text-anchor="middle" style="font-size:7px;" textLength="10.5" lengthAdjust="spacingAndGlyphs">200</text>
<path d="M128.6 305 L138.2 295.8 L179.5 295.8" stroke-width="0.6" fill="none"/>
<text transform="translate(162 291.4) rotate(0)" x="0" y="2.52" text-anchor="middle" style="font-size:7px;" textLength="33.5" lengthAdjust="spacingAndGlyphs">12 отв.  Ø18</text>
</g>
<g id="vV">
<text transform="translate(241 294) rotate(0)" x="0" y="3.17" text-anchor="middle" style="font-size:8.8px;stroke-width:0.03px;" textLength="32.5" lengthAdjust="spacingAndGlyphs">В ( 1:10 )</text>
<rect x="214.4" y="314" width="54" height="53.5" stroke-width="1.1" fill="none"/>
<rect x="221" y="321" width="40.8" height="39.8" stroke-width="1.1" fill="none"/>
<circle cx="217.4" cy="317" r="1.3" fill="#111" stroke="none"/>
<line x1="217.4" y1="314.2" x2="217.4" y2="319.8" stroke-width="0.6"/>
<circle cx="217.4" cy="363.9" r="1.3" fill="#111" stroke="none"/>
<line x1="217.4" y1="361.1" x2="217.4" y2="366.7" stroke-width="0.6"/>
<circle cx="233.1" cy="317" r="1.3" fill="#111" stroke="none"/>
<line x1="233.1" y1="314.2" x2="233.1" y2="319.8" stroke-width="0.6"/>
<circle cx="233.1" cy="363.9" r="1.3" fill="#111" stroke="none"/>
<line x1="233.1" y1="361.1" x2="233.1" y2="366.7" stroke-width="0.6"/>
<circle cx="248.7" cy="317" r="1.3" fill="#111" stroke="none"/>
<line x1="248.7" y1="314.2" x2="248.7" y2="319.8" stroke-width="0.6"/>
<circle cx="248.7" cy="363.9" r="1.3" fill="#111" stroke="none"/>
<line x1="248.7" y1="361.1" x2="248.7" y2="366.7" stroke-width="0.6"/>
<circle cx="264.4" cy="317" r="1.3" fill="#111" stroke="none"/>
<line x1="264.4" y1="314.2" x2="264.4" y2="319.8" stroke-width="0.6"/>
<circle cx="264.4" cy="363.9" r="1.3" fill="#111" stroke="none"/>
<line x1="264.4" y1="361.1" x2="264.4" y2="366.7" stroke-width="0.6"/>
<circle cx="217.4" cy="332.6" r="1.3" fill="#111" stroke="none"/>
<line x1="214.6" y1="332.6" x2="220.2" y2="332.6" stroke-width="0.6"/>
<circle cx="264.4" cy="332.6" r="1.3" fill="#111" stroke="none"/>
<line x1="261.6" y1="332.6" x2="267.2" y2="332.6" stroke-width="0.6"/>
<circle cx="217.4" cy="348.2" r="1.3" fill="#111" stroke="none"/>
<line x1="214.6" y1="348.2" x2="220.2" y2="348.2" stroke-width="0.6"/>
<circle cx="264.4" cy="348.2" r="1.3" fill="#111" stroke="none"/>
<line x1="261.6" y1="348.2" x2="267.2" y2="348.2" stroke-width="0.6"/>
<line x1="213.8" y1="317" x2="221" y2="317" stroke-width="0.5" stroke-dasharray="1.6 0.6"/>
<line x1="213.8" y1="363.9" x2="221" y2="363.9" stroke-width="0.5" stroke-dasharray="1.6 0.6"/>
<line x1="229.5" y1="317" x2="236.7" y2="317" stroke-width="0.5" stroke-dasharray="1.6 0.6"/>
<line x1="229.5" y1="363.9" x2="236.7" y2="363.9" stroke-width="0.5" stroke-dasharray="1.6 0.6"/>
<line x1="245.1" y1="317" x2="252.3" y2="317" stroke-width="0.5" stroke-dasharray="1.6 0.6"/>
<line x1="245.1" y1="363.9" x2="252.3" y2="363.9" stroke-width="0.5" stroke-dasharray="1.6 0.6"/>
<line x1="260.8" y1="317" x2="268" y2="317" stroke-width="0.5" stroke-dasharray="1.6 0.6"/>
<line x1="260.8" y1="363.9" x2="268" y2="363.9" stroke-width="0.5" stroke-dasharray="1.6 0.6"/>
<line x1="217.4" y1="313.4" x2="217.4" y2="320.6" stroke-width="0.5" stroke-dasharray="1.6 0.6"/>
<line x1="264.4" y1="313.4" x2="264.4" y2="320.6" stroke-width="0.5" stroke-dasharray="1.6 0.6"/>
<line x1="217.4" y1="329" x2="217.4" y2="336.2" stroke-width="0.5" stroke-dasharray="1.6 0.6"/>
<line x1="264.4" y1="329" x2="264.4" y2="336.2" stroke-width="0.5" stroke-dasharray="1.6 0.6"/>
<line x1="217.4" y1="344.6" x2="217.4" y2="351.8" stroke-width="0.5" stroke-dasharray="1.6 0.6"/>
<line x1="264.4" y1="344.6" x2="264.4" y2="351.8" stroke-width="0.5" stroke-dasharray="1.6 0.6"/>
<line x1="217.4" y1="360.3" x2="217.4" y2="367.5" stroke-width="0.5" stroke-dasharray="1.6 0.6"/>
<line x1="264.4" y1="360.3" x2="264.4" y2="367.5" stroke-width="0.5" stroke-dasharray="1.6 0.6"/>
<line x1="192.3" y1="317" x2="214.4" y2="317" stroke-width="0.52"/>
<line x1="205" y1="332.6" x2="217.4" y2="332.6" stroke-width="0.52"/>
<line x1="192.3" y1="363.9" x2="214.4" y2="363.9" stroke-width="0.52"/>
<line x1="206.6" y1="317" x2="206.6" y2="332.6" stroke-width="0.52"/>
<path d="M206.6 317 L207.6 321.3 L205.6 321.3 Z" fill="#111" stroke="none"/>
<path d="M206.6 332.6 L205.6 328.3 L207.6 328.3 Z" fill="#111" stroke="none"/>
<text transform="translate(203 324.2) rotate(-90)" x="0" y="2.2" text-anchor="middle" style="font-size:6.1px;" textLength="8.5" lengthAdjust="spacingAndGlyphs">117</text>
<line x1="194" y1="317" x2="194" y2="363.9" stroke-width="0.52"/>
<path d="M194 317 L195 321.3 L193 321.3 Z" fill="#111" stroke="none"/>
<path d="M194 363.9 L193 359.6 L195 359.6 Z" fill="#111" stroke="none"/>
<text transform="translate(190.8 339.8) rotate(-90)" x="0" y="2.2" text-anchor="middle" style="font-size:6.1px;" textLength="27.5" lengthAdjust="spacingAndGlyphs">3х117=350</text>
<line x1="217.4" y1="363.9" x2="217.4" y2="391.3" stroke-width="0.52"/>
<line x1="233.1" y1="363.9" x2="233.1" y2="379.8" stroke-width="0.52"/>
<line x1="264.4" y1="363.9" x2="264.4" y2="391.3" stroke-width="0.52"/>
<line x1="217.4" y1="377.8" x2="233.1" y2="377.8" stroke-width="0.52"/>
<path d="M217.4 377.8 L221.7 376.8 L221.7 378.8 Z" fill="#111" stroke="none"/>
<path d="M233.1 377.8 L228.8 378.8 L228.8 376.8 Z" fill="#111" stroke="none"/>
<text transform="translate(226.4 374.1) rotate(0)" x="0" y="2.2" text-anchor="middle" style="font-size:6.1px;" textLength="9" lengthAdjust="spacingAndGlyphs">117</text>
<line x1="217.4" y1="389.3" x2="264.4" y2="389.3" stroke-width="0.52"/>
<path d="M217.4 389.3 L221.7 388.3 L221.7 390.3 Z" fill="#111" stroke="none"/>
<path d="M264.4 389.3 L260.1 390.3 L260.1 388.3 Z" fill="#111" stroke="none"/>
<text transform="translate(241.3 385.8) rotate(0)" x="0" y="2.2" text-anchor="middle" style="font-size:6.1px;" textLength="28" lengthAdjust="spacingAndGlyphs">3х117=350</text>
<line x1="268.4" y1="314" x2="299" y2="314" stroke-width="0.52"/>
<line x1="268.4" y1="367.5" x2="299" y2="367.5" stroke-width="0.52"/>
<line x1="261.8" y1="321" x2="284.2" y2="321" stroke-width="0.52"/>
<line x1="261.8" y1="360.8" x2="284.2" y2="360.8" stroke-width="0.52"/>
<line x1="282.4" y1="321" x2="282.4" y2="360.8" stroke-width="0.52"/>
<path d="M282.4 321 L283.4 325.3 L281.4 325.3 Z" fill="#111" stroke="none"/>
<path d="M282.4 360.8 L281.4 356.5 L283.4 356.5 Z" fill="#111" stroke="none"/>
<text transform="translate(278.9 336.4) rotate(-90)" x="0" y="2.2" text-anchor="middle" style="font-size:6.1px;" textLength="11" lengthAdjust="spacingAndGlyphs">300</text>
<rect x="277.9" y="344" width="2.8" height="2.8" stroke-width="0.6" fill="none"/>
<line x1="297" y1="314" x2="297" y2="367.5" stroke-width="0.52"/>
<path d="M297 314 L298 318.3 L296 318.3 Z" fill="#111" stroke="none"/>
<path d="M297 367.5 L296 363.2 L298 363.2 Z" fill="#111" stroke="none"/>
<text transform="translate(293.5 336.4) rotate(-90)" x="0" y="2.2" text-anchor="middle" style="font-size:6.1px;" textLength="11" lengthAdjust="spacingAndGlyphs">400</text>
<rect x="292.4" y="344" width="2.8" height="2.8" stroke-width="0.6" fill="none"/>
<path d="M260.8 322.4 L272 303 L316 303" stroke-width="0.55" fill="none"/>
<line x1="260.8" y1="322.4" x2="262" y2="320.3" stroke-width="1"/>
<text transform="translate(296 299.2) rotate(0)" x="0" y="2.2" text-anchor="middle" style="font-size:6.1px;" textLength="35" lengthAdjust="spacingAndGlyphs">12 отв.  Ø14</text>
</g>
<g id="iso" stroke-linejoin="round">
<path d="M533.4 130 L533.4 162.5 Q534 166.6 544 167 Q554 166.8 555.3 162 L555.3 122.5" stroke-width="1.1" fill="none" />
<path d="M535.8 118.6 L535.8 124 Q537 129.2 543 129.2 Q549.4 129 550 124 L550 119" stroke-width="1.1" fill="none" />
<path d="M530.8 130.6 Q536 134.5 545 133 Q554 130.6 555.3 122.5 Q554.6 118.6 550.3 117" stroke-width="1.1" fill="none" />
<path d="M537.5 117.6 Q543 120.6 549.6 117.4" stroke-width="0.8" fill="none" />
<path d="M533.9 165 L538.2 197" stroke-width="1.1" fill="none"/>
<path d="M554.9 164.6 L547.8 197" stroke-width="1.1" fill="none"/>
<path d="M544.4 167 L545 197.4" stroke-width="0.8" fill="none"/>
<path d="M510.4 111 L510.4 149.9 Q513 155 522 155.3 Q528.5 155 530.8 153.4 L530.8 130.6" stroke-width="1.1" fill="none" />
<path d="M510.4 111.2 Q510.8 107.6 515 106 " stroke-width="1.1" fill="none" />
<path d="M511.3 117.5 Q514 121.5 516.3 122.6" stroke-width="0.8" fill="none" />
<path d="M511.4 152.4 L518.4 185.4" stroke-width="1.1" fill="none"/>
<path d="M530.4 154.2 L527.6 185.4" stroke-width="1.1" fill="none"/>
<line x1="514.3" y1="102.4" x2="514.3" y2="108.5" stroke-width="0.9"/>
<path d="M513.6 103.6 Q517 106.4 521.5 106.6" stroke-width="0.8" fill="none" />
<line x1="520.6" y1="106.5" x2="520.6" y2="112" stroke-width="0.8"/>
<path d="M516.2 113.4 L530.6 121.4 L530.6 132.2 L516.2 124.2 Z" stroke-width="1.2" fill="#fff"/>
<path d="M523.3 117.4 L523.3 128.2" stroke-width="1.6" fill="none"/>
<path d="M518 116.6 L521.4 118.5 L521.4 125.2 L518 123.3 Z" stroke-width="0.9" fill="#fff"/>
<path d="M525.4 120.8 L528.8 122.7 L528.8 129.4 L525.4 127.5 Z" stroke-width="0.9" fill="#fff"/>
<line x1="519.7" y1="118.6" x2="519.7" y2="123.4" stroke-width="0.7"/>
<line x1="527.1" y1="122.8" x2="527.1" y2="127.6" stroke-width="0.7"/>
<path d="M516.2 113.4 L520.2 111.2 L534.6 119 L530.6 121.4 Z" stroke-width="0.9" fill="#fff"/>
<path d="M523.2 117.2 L527.2 114.9" stroke-width="0.8" fill="none"/>
<path d="M522.2 116.7 L526.2 114.4" stroke-width="0.8" fill="none"/>
<line x1="530.6" y1="121.4" x2="535.8" y2="121.4" stroke-width="0.7"/>
<path d="M506.1 88.9 L523.1 79 L559.9 100.5 L543.2 109 Z" stroke-width="1.1" fill="#fff"/>
<path d="M506.1 88.9 L506.1 97.4 L543.2 116.4 L543.2 109 Z" stroke-width="1.1" fill="#fff"/>
<path d="M543.2 109 L543.2 116.4 L559.9 108.1 L559.9 100.5 Z" stroke-width="1.1" fill="#fff"/>
<path d="M506.1 88.9 L522.6 88.2" stroke-width="0.8" fill="none"/>
<path d="M523.1 79 L523.8 83.2" stroke-width="0.8" fill="none"/>
<path d="M543.2 109 L536.9 94.4" stroke-width="0.8" fill="none"/>
<path d="M559.9 100.5 L542.4 90.4" stroke-width="0.8" fill="none"/>
<path d="M524.7 87 L524.7 94 Q526 97.6 530.8 97.6 Q535.6 97.4 536.9 94.4 L541.6 88 Z" stroke-width="0.9" fill="#fff" />
<ellipse cx="533" cy="87.1" rx="10.4" ry="6" stroke-width="0.9" fill="#fff"/>
<ellipse cx="533" cy="85.5" rx="10.4" ry="6" stroke-width="1" fill="#fff"/>
<ellipse cx="533" cy="85.7" rx="8.5" ry="4.6" stroke-width="0.9" fill="#fff"/>
<path d="M525 87.6 Q529 91.6 534 91.4 Q539 91 541 87.4" stroke-width="0.8" fill="none" />
<path d="M536.4 114.4 Q538 119.2 543.4 119.2 Q549 119 550.6 113.4" stroke-width="1.9" fill="none" />
<path d="M512.6 101.6 Q515 105.6 521.6 105.8" stroke-width="1.7" fill="none" />
<path d="M506.2 186.2 L516.4 179.5 L517.2 179.9 M528.8 184.9 L535.6 187.8 M550 193.4 L559.8 197.5 L543.3 205.8 L506.2 186.2" stroke-width="1.1" fill="none" />
<path d="M506.2 186.2 L506.2 195.3 L543.3 215.5 L543.3 205.8" stroke-width="1.1" fill="none"/>
<path d="M543.3 205.8 L543.3 215.5 L559.8 205.8 L559.8 197.5" stroke-width="1.1" fill="none"/>
<ellipse cx="523" cy="186" rx="4.8" ry="2.3" stroke-width="0.7" fill="#fff"/>
<ellipse cx="542.8" cy="197.6" rx="4.8" ry="2.3" stroke-width="0.7" fill="#fff"/>
<path d="M518.2 186 A4.8 2.3 0 0 0 527.8 186" stroke-width="1.8" fill="none" />
<path d="M538 197.6 A4.8 2.3 0 0 0 547.6 197.6" stroke-width="1.8" fill="none" />
<path d="M500.2 196.6 L504.3 194.1 L508.4 196.6 L504.3 199.1 Z" stroke-width="0.6" fill="#1a1a1a"/>
<path d="M503.1 196.6 L504.3 195.9 L505.5 196.6 L504.3 197.3 Z" stroke-width="0.3" fill="#ccc"/>
<path d="M538.5 217.9 L542.6 215.4 L546.7 217.9 L542.6 220.4 Z" stroke-width="0.6" fill="#1a1a1a"/>
<path d="M541.4 217.9 L542.6 217.2 L543.8 217.9 L542.6 218.6 Z" stroke-width="0.3" fill="#ccc"/>
<path d="M557.1 207.7 L561.2 205.2 L565.3 207.7 L561.2 210.2 Z" stroke-width="0.6" fill="#1a1a1a"/>
<path d="M560 207.7 L561.2 207 L562.4 207.7 L561.2 208.4 Z" stroke-width="0.3" fill="#ccc"/>
<path d="M505.6 198 L524.3 235.2" stroke-width="1.1" fill="none"/>
<path d="M542.2 219.4 L533.2 240.2" stroke-width="1.1" fill="none"/>
<path d="M560.4 209.2 L541 235.2" stroke-width="1.1" fill="none"/>
<path d="M524.3 235.2 L533.2 240.2 L541 235.2" stroke-width="1.1" fill="none"/>
<path d="M523.4 234.4 L525.6 236.4" stroke-width="1.6" fill="none"/>
<path d="M540 236.2 L542 234.2" stroke-width="1.6" fill="none"/>
<path d="M532.2 240.4 L534.2 240.4" stroke-width="1.6" fill="none"/>
</g>
</svg>
</body></html>
